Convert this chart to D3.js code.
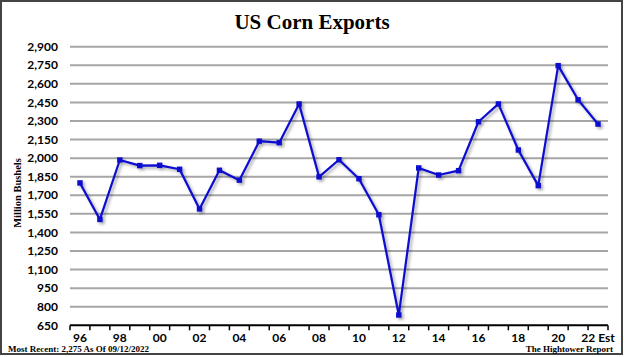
<!DOCTYPE html>
<html><head><meta charset="utf-8">
<script src="https://cdn.jsdelivr.net/npm/d3@7/dist/d3.min.js"></script>
<style>body{margin:0;background:#fff}svg{display:block}</style>
</head><body>
<script>
const categories = ["96","97","98","99","00","01","02","03","04","05","06","07","08","09","10","11","12","13","14","15","16","17","18","19","20","21","22 Est"];
const exportsValues = [1800,1505,1985,1940,1942,1910,1590,1902,1822,2137,2125,2437,1849,1987,1834,1543,733,1921,1864,1899,2294,2438,2066,1778,2747,2471,2275];
const yTicks = [650,800,950,1100,1250,1400,1550,1700,1850,2000,2150,2300,2450,2600,2750,2900];
const xLabels = ["96","98","00","02","04","06","08","10","12","14","16","18","20","22 Est"];
const title = "US Corn Exports";
const yTitle = "Million Bushels";
const footLeft = "Most Recent: 2,275 As Of 09/12/2022";
const footRight = "The Hightower Report";

const W = 624, H = 357;
const svg = d3.select("body").append("svg").attr("width", W).attr("height", H);
const defs = svg.append("defs");
const f = defs.append("filter").attr("id","sh").attr("x","-10%").attr("y","-10%").attr("width","130%").attr("height","130%");
f.append("feDropShadow").attr("dx",2).attr("dy",2).attr("stdDeviation",1.5).attr("flood-color","#000").attr("flood-opacity",0.35);

svg.append("rect").attr("x",1).attr("y",1).attr("width",W-3).attr("height",H-4)
  .attr("fill","#fff").attr("stroke","#444").attr("stroke-width",2);

const x = d3.scaleBand().domain(categories).range([70, 608]).paddingInner(0).paddingOuter(0);
const y = d3.scaleLinear().domain([650, 2900]).range([325.3, 46.7]);

// gridlines
svg.append("g").selectAll("line").data(yTicks.filter(d => d > 650)).join("line")
  .attr("x1", 70).attr("x2", 608).attr("y1", d => y(d)).attr("y2", d => y(d))
  .attr("stroke", "#a6a6a6").attr("stroke-width", 2);

// y labels
svg.append("g").selectAll("text").data(yTicks).join("text")
  .attr("x", 58).attr("y", d => y(d)).attr("dy", "0.35em").attr("text-anchor", "end")
  .attr("font-family", "Lato, 'Open Sans', sans-serif").attr("font-weight", "bold").attr("font-size", 12)
  .attr("fill", "#000").text(d => d3.format(",")(d));

// x axis
const gx = svg.append("g").attr("transform", `translate(0,${y(650)})`);
gx.append("line").attr("x1", 70).attr("x2", 608).attr("y1", 0).attr("y2", 0).attr("stroke", "#000").attr("stroke-width", 2);
const bounds = categories.map(c => x(c)).concat([x(categories[categories.length-1]) + x.bandwidth()]);
gx.selectAll("line.tk").data(bounds).join("line").attr("class","tk")
  .attr("x1", d => d).attr("x2", d => d).attr("y1", 0).attr("y2", 5)
  .attr("stroke", "#000").attr("stroke-width", 1.5);
gx.selectAll("text").data(xLabels).join("text")
  .attr("x", d => x(d) + x.bandwidth()/2).attr("y", 16.5).attr("text-anchor", "middle")
  .attr("font-family", "Lato, 'Open Sans', sans-serif").attr("font-weight", "bold").attr("font-size", 12)
  .attr("fill", "#000").text(d => d);

// line
const pts = categories.map((c, i) => ({c, v: exportsValues[i]}));
const line = d3.line().x(d => x(d.c) + x.bandwidth()/2).y(d => y(d.v));
const lg = svg.append("g").attr("filter", "url(#sh)");
lg.append("path").datum(pts).attr("d", line).attr("fill", "none")
  .attr("stroke", "#0a0ad0").attr("stroke-width", 2.2).attr("stroke-linejoin", "round");
lg.selectAll("rect").data(pts).join("rect")
  .attr("x", d => x(d.c) + x.bandwidth()/2 - 2.7).attr("y", d => y(d.v) - 2.7)
  .attr("width", 5.4).attr("height", 5.4).attr("fill", "#0a0ad0");

// title
svg.append("text").attr("x", 312).attr("y", 29).attr("text-anchor", "middle")
  .attr("font-family", "'Liberation Serif', 'DejaVu Serif', serif").attr("font-weight", "bold")
  .attr("font-size", 21).attr("fill", "#000").text(title);

// y title
svg.append("text").attr("transform", "translate(21,193) rotate(-90)").attr("text-anchor", "middle")
  .attr("font-family", "'Liberation Serif', serif").attr("font-weight", "bold").attr("font-size", 10.5)
  .attr("fill", "#000").text(yTitle);

// footers
svg.append("text").attr("x", 8).attr("y", 351.5)
  .attr("font-family", "'Liberation Serif', serif").attr("font-weight", "bold").attr("font-size", 9)
  .attr("fill", "#000").text(footLeft);
svg.append("text").attr("x", 613).attr("y", 351.5).attr("text-anchor", "end")
  .attr("font-family", "'Liberation Serif', serif").attr("font-weight", "bold").attr("font-size", 9)
  .attr("fill", "#000").text(footRight);
</script>
</body></html>
